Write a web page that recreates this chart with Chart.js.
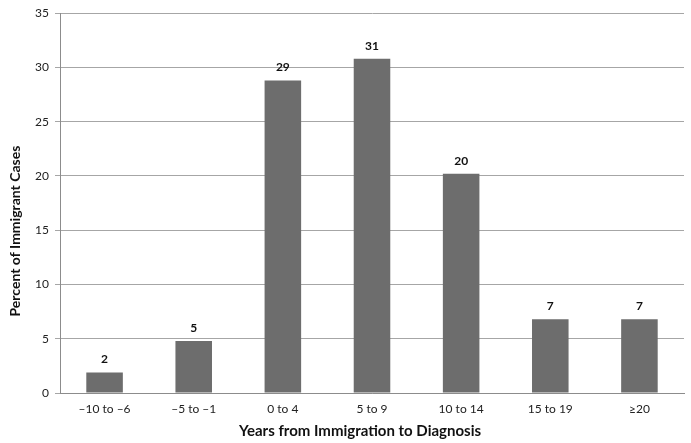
<!DOCTYPE html>
<html>
<head>
<meta charset="utf-8">
<script src="https://cdn.jsdelivr.net/npm/chart.js@4"></script>
<style>
html,body{margin:0;padding:0;background:#fff;}
#wrap{width:691px;height:443px;}
</style>
</head>
<body>
<div id="wrap"><canvas id="c" width="691" height="443"></canvas></div>
<script>
const categories = ["\u201310 to \u20136", "\u20135 to \u20131", "0 to 4", "5 to 9", "10 to 14", "15 to 19", "\u226520"];
const percentValues = [1.9, 4.8, 28.8, 30.8, 20.2, 6.8, 6.8];
const barLabels = ["2", "5", "29", "31", "20", "7", "7"];
const yTicks = [0, 5, 10, 15, 20, 25, 30, 35];
const xTitle = "Years from Immigration to Diagnosis";
const yTitle = "Percent of Immigrant Cases";

const FONT = "Lato, 'Open Sans', sans-serif";

const valueLabels = {
  id: 'valueLabels',
  afterDatasetsDraw(chart) {
    const ctx = chart.ctx;
    const meta = chart.getDatasetMeta(0);
    ctx.save();
    ctx.font = "bold 12px " + FONT;
    ctx.fillStyle = "#111";
    ctx.textAlign = "center";
    ctx.textBaseline = "bottom";
    meta.data.forEach((bar, i) => {
      ctx.fillText(barLabels[i], bar.x, bar.y - 7);
    });
    ctx.restore();
  }
};

const axisTitles = {
  id: 'axisTitles',
  afterDraw(chart) {
    const ctx = chart.ctx;
    const a = chart.chartArea;
    ctx.save();
    ctx.fillStyle = "#111";
    ctx.textAlign = "center";
    ctx.textBaseline = "middle";
    ctx.font = "bold 15px " + FONT;
    ctx.fillText(xTitle, (a.left + a.right) / 2 - 12, chart.height - 12);
    ctx.font = "bold 14px " + FONT;
    ctx.translate(15, (a.top + a.bottom) / 2 + 28);
    ctx.rotate(-Math.PI / 2);
    ctx.fillText(yTitle, 0, 0);
    ctx.restore();
  }
};

new Chart(document.getElementById('c'), {
  type: 'bar',
  data: {
    labels: categories,
    datasets: [{
      data: percentValues,
      backgroundColor: '#6d6d6d',
      categoryPercentage: 1.0,
      barPercentage: 0.41
    }]
  },
  options: {
    responsive: false,
    animation: false,
    devicePixelRatio: 1,
    layout: { padding: { top: 6, right: 7, left: 13, bottom: 4 } },
    plugins: { legend: { display: false }, tooltip: { enabled: false } },
    scales: {
      x: {
        afterFit(axis) { axis.height = 46; },
        grid: { display: false, drawTicks: false, tickLength: 0 },
        border: { display: true, color: '#8c8c8c', width: 1 },
        ticks: { color: '#222', font: { family: FONT, size: 12 }, padding: 9, maxRotation: 0 },
        title: { display: false }
      },
      y: {
        min: 0, max: 35,
        afterFit(axis) { axis.width = 47; },
        afterBuildTicks(axis) { axis.ticks = yTicks.map(v => ({ value: v })); },
        grid: { color: '#a6a6a6', lineWidth: 1, tickLength: 5, drawTicks: true },
        border: { display: true, color: '#8c8c8c', width: 1 },
        ticks: { color: '#222', font: { family: FONT, size: 12 }, padding: 6 },
        title: { display: false }
      }
    }
  },
  plugins: [valueLabels, axisTitles]
});
</script>
</body>
</html>
